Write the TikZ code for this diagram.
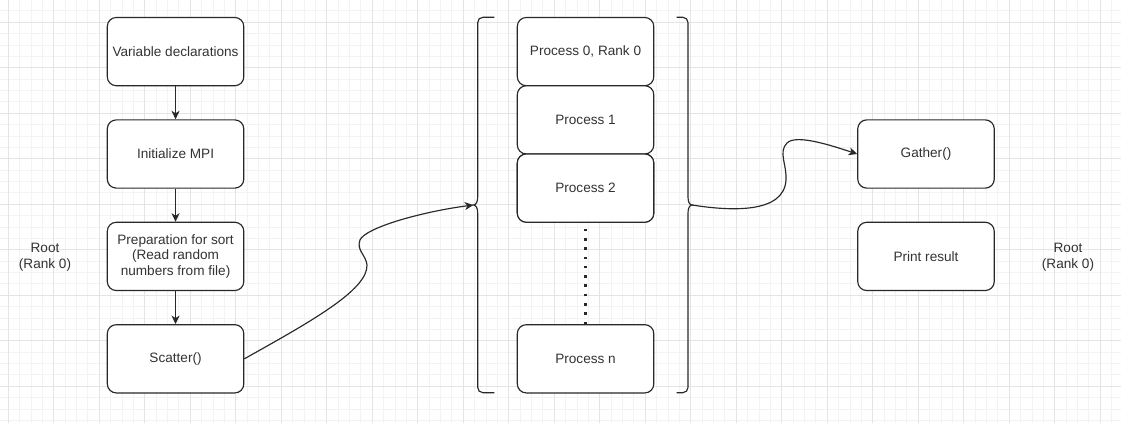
\documentclass[tikz,border=0pt]{standalone}
\usepackage{fontspec}
\setmainfont{Liberation Sans}
\usetikzlibrary{arrows.meta}
\definecolor{ink}{RGB}{40,40,40}
\definecolor{txt}{RGB}{51,51,51}
\definecolor{gridminor}{RGB}{243,243,243}
\definecolor{gridmajor}{RGB}{228,228,228}
\begin{document}
\begin{tikzpicture}[x=1pt,y=-1pt,
  box/.style={draw=ink,line width=1.15pt,rounded corners=9pt,fill=white,
    minimum width=136.5pt,minimum height=68.25pt,inner sep=0pt,
    text=txt,font=\fontsize{13.6}{15.8}\selectfont,align=center},
  lbl/.style={text=txt,font=\fontsize{13.6}{15.8}\selectfont,align=center,inner sep=0pt},
  flow/.style={draw=ink,line width=1.15pt,-{Stealth[length=8.5pt,width=8pt,inset=2.5pt]}},
  brace/.style={draw=ink,line width=1.15pt},
  dots/.style={draw=ink,line width=2.6pt,dash pattern=on 2.6pt off 6.67pt}]
\useasboundingbox (0,0) rectangle (1121,423);
\fill[white] (0,0) rectangle (1121,423);
% background grid
\begin{scope}
\clip (0,0) rectangle (1121,423);
\foreach \i in {0,...,99} \draw[gridminor,line width=1pt] ({8.3+11.375*(\i-1)},0) -- ++(0,423);
\foreach \j in {0,...,39} \draw[gridminor,line width=1pt] (0,{22.3+11.375*(\j-2)}) -- ++(1121,0);
\foreach \k in {0,...,24} \draw[gridmajor,line width=1pt] ({8.3+45.5*\k},0) -- ++(0,423);
\foreach \k in {0,...,8} \draw[gridmajor,line width=1pt] (0,{22.3+45.5*\k}) -- ++(1121,0);
\end{scope}

% root side
\node[box] (vars) at (175.55,51.6) {Variable declarations};
\node[box] (init) at (175.55,154) {Initialize MPI};
\node[box] (prep) at (175.55,256.4) {Preparation for sort\\(Read random\\numbers from file)};
\node[box] (scat) at (175.55,358.8) {Scatter()};
\node[lbl] (rootl) at (45,257) {Root\\(Rank 0)};
\node[lbl] (rootr) at (1068,257) {Root\\(Rank 0)};

\draw[flow] (vars) -- (init);
\draw[flow] (init) -- (prep);
\draw[flow] (prep) -- (scat);

% worker processes
\node[box] (pn) at (585.55,358.8) {Process n};
\node[box] (p2) at (585.55,188.1) {Process 2};
\draw[dots] (pn.north) -- (p2.south);
\node[box] (p0) at (585.55,51.6) {Process 0, Rank 0};
\node[box] (p1) at (585.55,119.85) {Process 1};
\node[box] at (585.55,188.1) {Process 2};

% gather side
\node[box] (gath) at (926,154) {Gather()};
\node[box] (prnt) at (926,256.4) {Print result};

% braces around the processes
\coordinate (lb) at (473.3,205);
\coordinate (rb) at (692,205);
\draw[brace] (494.3,17.3) -- (483,17.3) .. controls (479.9,17.3) and (477.7,19.5) .. (477.7,22.6)
  -- (477.7,197) .. controls (477.7,202) and (476,205) .. (lb)
  .. controls (476,205) and (477.7,208) .. (477.7,213)
  -- (477.7,387.4) .. controls (477.7,390.5) and (479.9,392.7) .. (483,392.7) -- (494.3,392.7);
\draw[brace] (676.7,17.3) -- (682.7,17.3) .. controls (685.8,17.3) and (688,19.5) .. (688,22.6)
  -- (688,197) .. controls (688,202) and (689.7,205) .. (rb)
  .. controls (689.7,205) and (688,208) .. (688,213)
  -- (688,387.4) .. controls (688,390.5) and (685.8,392.7) .. (682.7,392.7) -- (676.7,392.7);

% message passing
\draw[flow] (scat.east) .. controls (310,322) and (368,290) .. (367,265)
  .. controls (366,255) and (356,250) .. (360,240)
  .. controls (365,228) and (420,212) .. (lb);
\draw[flow] (rb) .. controls (730,211) and (784,214) .. (786,180)
  .. controls (787,165) and (778,152) .. (787,143)
  .. controls (796,134) and (830,145) .. (gath.west);
\end{tikzpicture}
\end{document}
